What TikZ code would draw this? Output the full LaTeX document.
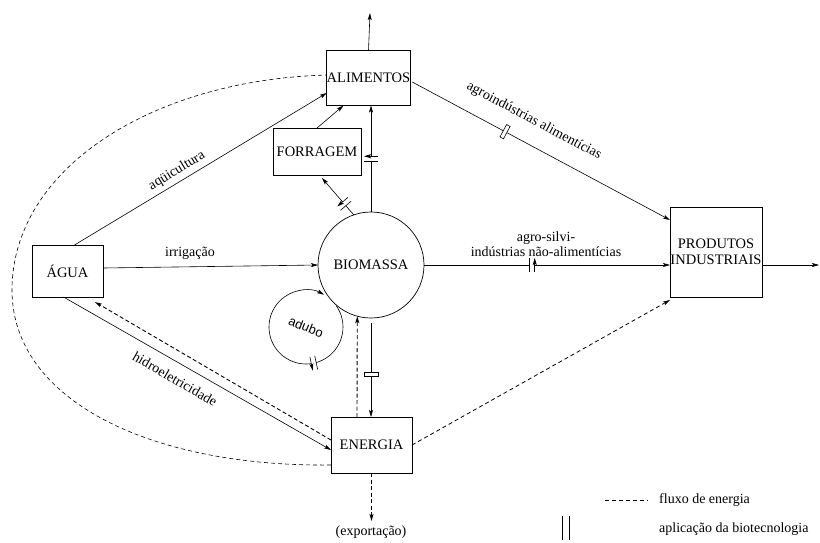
\documentclass[tikz,border=0pt]{standalone}
\usepackage{fontspec}
\setmainfont{Liberation Serif}
\newfontfamily\adubofont{Liberation Sans}
\usetikzlibrary{arrows.meta,calc,decorations.markings}
\tikzset{
  box/.style={draw, line width=0.7pt, inner sep=0pt, outer sep=0pt, align=center, font=\fontsize{14.5}{16}\selectfont},
  conn/.style={line width=0.6pt, -{Stealth[length=7pt,width=4pt,inset=1.5pt]}},
  plain/.style={line width=0.6pt},
  flow/.style={line width=0.9pt, dash pattern=on 4pt off 2.5pt},
  thinflow/.style={line width=0.6pt, dash pattern=on 4pt off 3pt},
  lbl/.style={font=\fontsize{14}{15.5}\selectfont, inner sep=1pt, align=center},
  biot/.style={postaction={decorate, decoration={markings, mark=at position #1 with {
      \fill[white] (-2.5pt,-7pt) rectangle (2.5pt,7pt);
      \draw[line width=0.6pt] (-2.5pt,-7pt)--(-2.5pt,7pt) (2.5pt,-7pt)--(2.5pt,7pt);}}}},
  biotbox/.style={postaction={decorate, decoration={markings, mark=at position #1 with {
      \draw[line width=0.6pt, fill=white] (-2pt,-7pt) rectangle (2pt,7pt);}}}},
}
\begin{document}
\begin{tikzpicture}[x=1pt,y=-1pt]
\useasboundingbox (0,0) rectangle (820,542);
% nodes
\node[box, minimum width=83pt, minimum height=55pt] (alim) at (368.5,78) {ALIMENTOS};
\node[box, minimum width=88pt, minimum height=47pt] (forr) at (317,151.5) {FORRAGEM};
\node[box, minimum width=71pt, minimum height=52pt] (agua) at (67.5,271) {ÁGUA};
\node[box, circle, minimum size=106pt] (bio) at (371,265) {BIOMASSA};
\node[box, minimum width=81pt, minimum height=56pt] (ener) at (371.5,445) {ENERGIA};
\node[box, minimum width=92pt, minimum height=90pt] (prod) at (716,252) {PRODUTOS\\INDUSTRIAIS};
\node[circle, minimum size=74pt, inner sep=0pt, outer sep=0pt] (adc) at (306,327) {};
\node[font=\adubofont\fontsize{13}{15}\selectfont, rotate=-22] (adubo) at (306,327) {adubo};
\coordinate (top) at (370,13);
\coordinate (out) at (819,265);
\coordinate (exp) at (371.5,521);

% connectors
\draw[conn] (alim.north) -- (top);
\draw[conn] (forr.north) -- ($(alim.south)+(-25,0)$);
\draw[conn, biot=0.3] (bio.109) -- ($(forr.south)+(5,3)$);
\draw[conn, biot=0.5] (bio.north) -- (bio.north |- alim.south);
\draw[conn] ($(agua.north)+(7,0)$) -- ($(alim.west)+(0,15)$);
\draw[conn] ($(agua.east)+(0,-3)$) -- (bio.west);
\draw[conn] ($(agua.south)+(-4,0)$) -- ($(ener.west)+(0,5)$);
\draw[conn, flow] ($(ener.west)+(0,-5)$) -- ($(agua.south east)+(-8,5)$);
\draw[conn, biotbox=0.36] ($(alim.east)+(2,4)$) -- ($(prod.north west)+(0,13)$);
\draw[conn, biot=0.44] (bio.east) -- (bio.east -| prod.west);
\draw[conn] ($(prod.east)+(0,13)$) -- (out);
\draw[conn, biotbox=0.55] ($(bio.south)+(0,5)$) -- (bio.south |- ener.north);
\draw[conn, flow] ($(ener.north)+(-14.5,0)$) -- (bio.-105);
\draw[conn, flow] (ener.south) -- (exp);
\draw[conn, thinflow, line width=0.8pt] (ener.east) -- ($(prod.south west)+(0,3)$);
\draw[conn, biot=0.338] (adc.35) arc[start angle=-35, end angle=299, radius=37];
\draw[thinflow] ($(ener.west)+(0,20)$) .. controls (150,467) and (12,400) .. (12,290)
   .. controls (12,170) and (150,80) .. ($(alim.west)+(0,-3)$);

% labels
\node[lbl, rotate=31] (laq) at (177,171) {aqüicultura};
\node[lbl] (lirr) at (190,253) {irrigação};
\node[lbl, rotate=-30] (lhid) at (175,379) {hidroeletricidade};
\node[lbl, rotate=-28] (lagr) at (534,121) {agroindústrias alimentícias};
\node[lbl, font=\fontsize{14}{15}\selectfont] (lsil) at (546,244) {agro-silvi-\\indústrias não-alimentícias};
\node[lbl] (lexp) at (371,532) {(exportação)};

% legend
\coordinate (lg1) at (605,500);
\coordinate (lg2) at (648,500);
\draw[thinflow, line width=0.7pt] (lg1) -- (lg2);
\node[lbl, anchor=west] (lflu) at (658,500) {fluxo de energia};
\draw[line width=0.7pt] (562,516) -- (562,540) (569,516) -- (569,540);
\node[lbl, anchor=west] (lbio) at (658,529) {aplicação da biotecnologia};
\end{tikzpicture}
\end{document}
